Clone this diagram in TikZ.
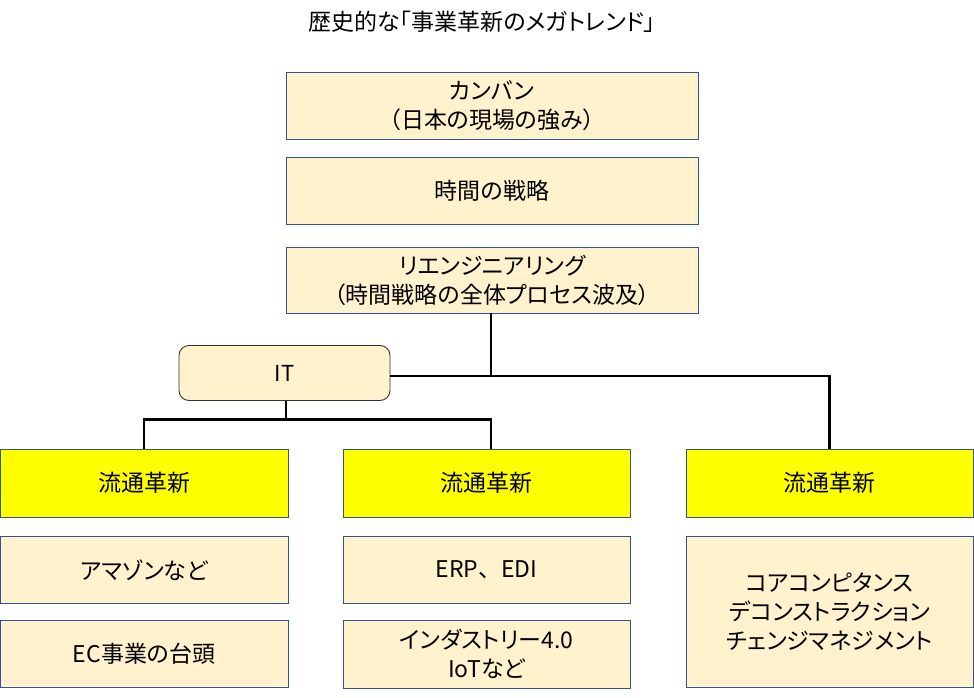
\documentclass[tikz,border=0pt]{standalone}
\usepackage{fontspec}
\setmainfont{Noto Sans CJK JP}[RawFeature=+palt]
\newfontfamily\fullwidthjp{Noto Sans CJK JP}
\begin{document}
\begin{tikzpicture}[x=1pt,y=-1pt,
  cream/.style={draw=boxblue,line width=0.9pt,fill=creamfill,inner sep=0pt,align=center,
     font=\fontsize{23}{29}\selectfont},
  yel/.style={draw=boxblue,line width=0.9pt,fill=yellow,inner sep=0pt,align=center,
     font=\fontsize{23}{29}\selectfont},
  conn/.style={line width=2.6pt,black}]
\definecolor{creamfill}{HTML}{FFF2CC}
\definecolor{boxblue}{HTML}{2F5597}
\definecolor{yellow}{HTML}{FFFF00}
\useasboundingbox (0,0) rectangle (974,698);
\node[font=\fontsize{23}{26}\selectfont] (title) at (482,22) {歴史的な「事業革新のメガトレンド」};
\node[cream,minimum width=412pt,minimum height=67pt] (b1) at (492,105.5) {カンバン\\（日本の現場の強み）};
\node[cream,minimum width=412pt,minimum height=67pt] (b2) at (492,190.5) {時間の戦略};
\node[cream,minimum width=412pt,minimum height=66pt] (b3) at (492,280) {リエンジニアリング\\（時間戦略の全体プロセス波及）};
\node[draw=black!80,line width=0.9pt,fill=creamfill,rounded corners=10pt,minimum width=211pt,minimum height=55pt,
  font=\fontsize{22}{24}\selectfont] (it) at (284.5,373) {IT};
\node[yel,minimum width=288pt,minimum height=68pt] (a1) at (144,483) {流通革新};
\node[yel,minimum width=287pt,minimum height=68pt] (m1) at (486.5,483) {流通革新};
\node[yel,minimum width=287pt,minimum height=68pt] (c1) at (829.5,483) {流通革新};
\node[cream,minimum width=288pt,minimum height=67pt] (a2) at (144,570) {アマゾンなど};
\node[cream,minimum width=288pt,minimum height=67pt] (a3) at (144,654) {EC事業の台頭};
\node[cream,minimum width=287pt,minimum height=67pt] (m2) at (486.5,570) {ERP{\fullwidthjp 、}EDI};
\node[cream,minimum width=287pt,minimum height=68pt] (m3) at (486.5,654) {インダストリー4.0\\IoTなど};
\node[cream,minimum width=287pt,minimum height=151pt] (c2) at (829.5,611.5) {コアコンピタンス\\デコンストラクション\\チェンジマネジメント};
\coordinate (j1) at (491,376);
\coordinate (j2) at (286,419.5);
\draw[conn] (b3.south -| j1) -- (j1);
\draw[conn] (it.east |- j1) -- (j1) -| (c1.north);
\draw[conn] (it.south -| j2) -- (j2);
\draw[conn] (a1.north) |- (j2) -| (m1.north -| j1);
\end{tikzpicture}
\end{document}
